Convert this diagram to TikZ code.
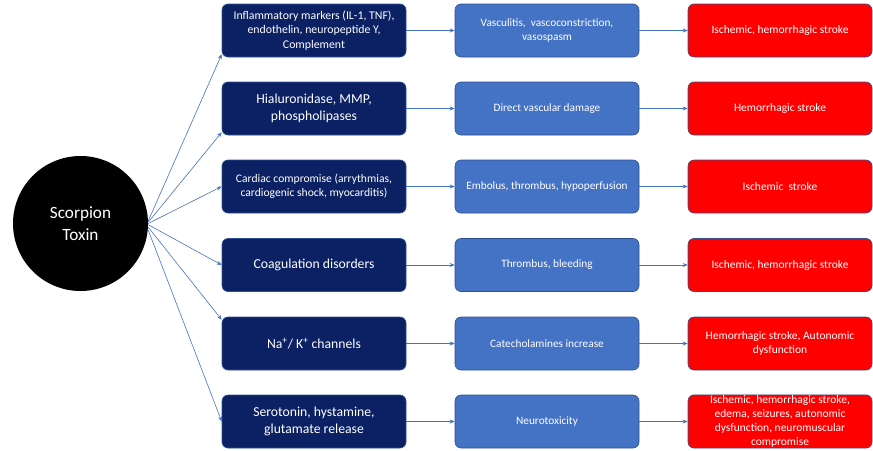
\documentclass[tikz,border=0pt]{standalone}
\usepackage{fontspec}
\setmainfont{Carlito}
\usetikzlibrary{arrows.meta}
\definecolor{navy}{HTML}{0B2163}
\definecolor{midblue}{HTML}{4472C4}
\definecolor{bordc}{HTML}{2F528F}
\definecolor{redfill}{HTML}{FF0000}
\definecolor{arrc}{HTML}{4472C4}
\begin{document}
\begin{tikzpicture}[x=1pt,y=-1pt,
  box/.style={rounded corners=6pt, minimum width=184pt, minimum height=53pt, align=center, text=white, inner sep=1pt, draw=bordc, line width=0.6pt},
  dark/.style={box, fill=navy},
  mid/.style={box, fill=midblue, font=\fontsize{11.3}{13.5}\selectfont},
  redb/.style={box, fill=redfill, font=\fontsize{11.5}{13.8}\selectfont},
  fs/.style={font=\fontsize{11.8}{14.3}\selectfont},
  fl/.style={font=\fontsize{13.7}{16.5}\selectfont},
  arr/.style={-{Stealth[length=5pt,width=4pt]}, draw=arrc, line width=0.6pt}]
\useasboundingbox (0,0) rectangle (873,450);

\node[circle, fill=black, minimum size=135pt, inner sep=0pt, text=white, align=center,
  font=\fontsize{17.2}{22}\selectfont] (circ) at (80.5,223.5) {Scorpion\\Toxin};

% column 1
\node[dark,fs] (b1) at (314,30.5) {Inflammatory markers (IL-1, TNF),\\endothelin, neuropeptide Y,\\Complement};
\node[dark,fl] (b2) at (314,108.5) {Hialuronidase, MMP,\\phospholipases};
\node[dark,font=\fontsize{11.6}{14.5}\selectfont] (b3) at (314,186.5) {Cardiac compromise (arrythmias,\\cardiogenic shock, myocarditis)};
\node[dark,fl] (b4) at (314,265) {Coagulation disorders};
\node[dark,fl] (b5) at (314,343.5) {Na\textsuperscript{+}/ K\textsuperscript{+} channels};
\node[dark,fl] (b6) at (314,421.5) {Serotonin, hystamine,\\glutamate release};

% column 2
\node[mid] (m1) at (547,30.5) {Vasculitis,\ \ vascoconstriction,\\vasospasm};
\node[mid] (m2) at (547,108.5) {Direct vascular damage};
\node[mid] (m3) at (547,186.5) {Embolus, thrombus, hypoperfusion};
\node[mid] (m4) at (547,265) {Thrombus, bleeding};
\node[mid] (m5) at (547,343.5) {Catecholamines increase};
\node[mid] (m6) at (547,421.5) {Neurotoxicity};

% column 3
\node[redb] (r1) at (780,30.5) {Ischemic, hemorrhagic stroke};
\node[redb] (r2) at (780,108.5) {Hemorrhagic stroke};
\node[redb] (r3) at (780,186.5) {Ischemic\ \ stroke};
\node[redb] (r4) at (780,265) {Ischemic, hemorrhagic stroke};
\node[redb] (r5) at (780,343.5) {Hemorrhagic stroke, Autonomic\\dysfunction};
\node[redb, font=\fontsize{11.5}{13.8}\selectfont] (r6) at (780,421.5) {Ischemic, hemorrhagic stroke,\\edema, seizures, autonomic\\dysfunction, neuromuscular\\compromise};

% arrows from toxin
\draw[arr] (circ.2) -- ([yshift=3pt]b1.south west);
\draw[arr] (circ.1) -- ([yshift=3pt]b2.south west);
\draw[arr] (circ.0) -- (b3.west);
\draw[arr] (circ.-1) -- (b4.west);
\draw[arr] (circ.-3) -- ([yshift=-3pt]b5.north west);
\draw[arr] (circ.-5) -- (b6.west);

% horizontal arrows
\foreach \i in {1,...,6}{
  \draw[arr] (b\i.east) -- (m\i.west);
  \draw[arr] (m\i.east) -- (r\i.west);
}
\end{tikzpicture}
\end{document}
